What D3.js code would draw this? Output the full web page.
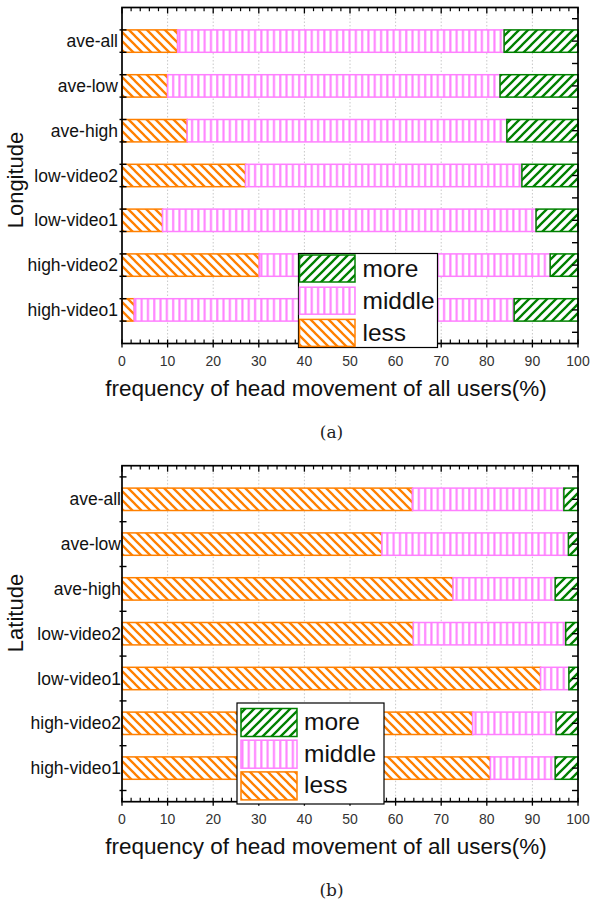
<!DOCTYPE html>
<html>
<head>
<meta charset="utf-8">
<script src="https://cdn.jsdelivr.net/npm/d3@7"></script>
<style>
  body { margin: 0; background: #fff; }
  svg { display: block; }
  text { font-family: "Liberation Sans", Arial, sans-serif; }
  text.caption { font-family: "DejaVu Serif", "Liberation Serif", serif; }
</style>
</head>
<body>
<svg id="fig" width="591" height="901"></svg>
<script>
// Categories, bottom to top on the y axis
const categories = ["high-video1", "high-video2", "low-video1", "low-video2", "ave-high", "ave-low", "ave-all"];
const seriesNames = ["less", "middle", "more"];
const legendOrder = ["more", "middle", "less"];

// Longitude: share of head movement (%)
const lonLess   = [2.7, 30.1, 8.9, 27.1, 14.3, 10.0, 12.2];
const lonMiddle = [83.3, 63.8, 81.9, 60.6, 70.1, 72.9, 71.6];
const lonMore   = [14.0, 6.1, 9.2, 12.3, 15.6, 17.1, 16.2];

// Latitude: share of head movement (%)
const latLess   = [80.8, 76.9, 91.8, 63.9, 72.6, 57.0, 63.7];
const latMiddle = [14.2, 18.3, 6.2, 33.4, 22.4, 40.9, 33.2];
const latMore   = [5.0, 4.8, 2.0, 2.7, 5.0, 2.1, 3.1];

const xTicks = [0, 10, 20, 30, 40, 50, 60, 70, 80, 90, 100];
const xTitle = "frequency of head movement of all users(%)";

const svg = d3.select("#fig");
const defs = svg.append("defs");

const ORANGE = "#ff8000", PINK = "#ff80ff", GREEN = "#008000";
const P = 9; // hatch period

// Hatch fills
const pLess = defs.append("pattern").attr("id", "pat-less")
  .attr("patternUnits", "userSpaceOnUse").attr("width", P).attr("height", P);
pLess.append("rect").attr("width", P).attr("height", P).attr("fill", "#fff");
pLess.append("path").attr("d", `M-1,-1 L${P + 1},${P + 1} M-1,${P - 1} L1,${P + 1} M${P - 1},-1 L${P + 1},1`)
  .attr("stroke", ORANGE).attr("stroke-width", 2.3).attr("fill", "none");

const pMid = defs.append("pattern").attr("id", "pat-middle")
  .attr("patternUnits", "userSpaceOnUse").attr("width", 6.3).attr("height", 10);
pMid.append("rect").attr("width", 6.3).attr("height", 10).attr("fill", "#fff");
pMid.append("rect").attr("x", 2).attr("width", 2.1).attr("height", 10).attr("fill", PINK);

const pMore = defs.append("pattern").attr("id", "pat-more")
  .attr("patternUnits", "userSpaceOnUse").attr("width", P).attr("height", P);
pMore.append("rect").attr("width", P).attr("height", P).attr("fill", "#fff");
pMore.append("path").attr("d", `M-1,${P + 1} L${P + 1},-1 M-1,1 L1,-1 M${P - 1},${P + 1} L${P + 1},${P - 1}`)
  .attr("stroke", GREEN).attr("stroke-width", 2.3).attr("fill", "none");

const fills = { less: "url(#pat-less)", middle: "url(#pat-middle)", more: "url(#pat-more)" };
const strokes = { less: ORANGE, middle: PINK, more: GREEN };

const panels = [
  {
    yTitle: "Longitude", caption: "(a)",
    less: lonLess, middle: lonMiddle, more: lonMore,
    top: 7.5, titleY: 180, leftTicks: "edges", labelRight: 118,
    legend: { x: 298.5, y: 253.5, w: 139, h: 94, sx: 299.5, sy: 255, sw: 55.5, sh: 27, step: 32.2, tx: 362.5 }
  },
  {
    yTitle: "Latitude", caption: "(b)",
    less: latLess, middle: latMiddle, more: latMore,
    top: 465.7, titleY: 613, leftTicks: "between", labelRight: 121,
    legend: { x: 237, y: 703, w: 147, h: 101, sx: 241, sy: 708.5, sw: 56, sh: 28, step: 31.7, tx: 304 }
  }
];

const left = 122, right = 578, plotH = 336;

panels.forEach(p => {
  const top = p.top, bottom = top + plotH;
  const g = svg.append("g");

  const x = d3.scaleLinear().domain([0, 100]).range([left, right]);
  const yBand = d3.scaleBand().domain(categories).range([bottom, top]).padding(0.5);
  const yIdx = d3.scaleLinear().domain([0.25, 7.75]).range([bottom, top]);

  // dotted vertical grid
  g.append("g").selectAll("line").data(xTicks.slice(1, -1)).join("line")
    .attr("x1", d => x(d)).attr("x2", d => x(d))
    .attr("y1", top).attr("y2", bottom)
    .attr("stroke", "#c8c8c8").attr("stroke-width", 1).attr("stroke-dasharray", "1.5,2");

  // stacked bars
  const rows = categories.map((c, i) => ({ cat: c, less: p.less[i], middle: p.middle[i], more: p.more[i] }));
  const stacked = d3.stack().keys(seriesNames)(rows);
  stacked.forEach(layer => {
    g.append("g").selectAll("rect").data(layer).join("rect")
      .attr("x", d => x(d[0]))
      .attr("y", d => yBand(d.data.cat))
      .attr("width", d => x(d[1]) - x(d[0]))
      .attr("height", yBand.bandwidth())
      .attr("fill", fills[layer.key])
      .attr("stroke", strokes[layer.key])
      .attr("stroke-width", 1.5);
  });

  // x axes (bottom, top) with inward ticks
  const minor = d3.range(0, 101, 2).filter(v => v % 10 !== 0);
  const ax = g.append("g").attr("stroke", "#000");
  ax.selectAll(".mj-b").data(xTicks).join("line").attr("class", "mj-b")
    .attr("x1", d => x(d)).attr("x2", d => x(d)).attr("y1", bottom - 4).attr("y2", bottom + 4).attr("stroke-width", 1.3);
  ax.selectAll(".mn-b").data(minor).join("line").attr("class", "mn-b")
    .attr("x1", d => x(d)).attr("x2", d => x(d)).attr("y1", bottom - 4).attr("y2", bottom).attr("stroke-width", 1.2);
  ax.selectAll(".mj-t").data(xTicks).join("line").attr("class", "mj-t")
    .attr("x1", d => x(d)).attr("x2", d => x(d)).attr("y1", top).attr("y2", top + 6).attr("stroke-width", 1.3);
  ax.selectAll(".mn-t").data(minor).join("line").attr("class", "mn-t")
    .attr("x1", d => x(d)).attr("x2", d => x(d)).attr("y1", top).attr("y2", top + 3.7).attr("stroke-width", 1.2);

  // y ticks
  const leftVals = p.leftTicks === "edges"
    ? d3.range(1, 8).flatMap(k => [k - 0.25, k + 0.25])
    : d3.range(0.5, 8, 1);
  ax.selectAll(".yl").data(leftVals).join("line").attr("class", "yl")
    .attr("x1", left - 2.5).attr("x2", left + 4.5).attr("y1", d => yIdx(d)).attr("y2", d => yIdx(d)).attr("stroke-width", 1.4);
  ax.selectAll(".yr").data(d3.range(0.5, 8, 0.5)).join("line").attr("class", "yr")
    .attr("x1", right - 6).attr("x2", right).attr("y1", d => yIdx(d)).attr("y2", d => yIdx(d)).attr("stroke-width", 1.4);

  // frame
  g.append("rect").attr("x", left).attr("y", top).attr("width", right - left).attr("height", plotH)
    .attr("fill", "none").attr("stroke", "#000").attr("stroke-width", 1.7);

  // x tick labels
  g.append("g").selectAll("text").data(xTicks).join("text")
    .attr("x", d => x(d)).attr("y", bottom + 22.5)
    .attr("text-anchor", "middle").attr("font-size", 14).attr("fill", "#333")
    .text(d => d);

  // category labels
  g.append("g").selectAll("text").data(categories).join("text")
    .attr("x", p.labelRight).attr("y", d => yBand(d) + yBand.bandwidth() / 2 + 6)
    .attr("text-anchor", "end").attr("font-size", 17.5).attr("fill", "#111")
    .text(d => d);

  // axis titles
  g.append("text").attr("x", 326).attr("y", bottom + 52.5)
    .attr("text-anchor", "middle").attr("font-size", 22.5).attr("fill", "#111")
    .text(xTitle);
  g.append("text").attr("transform", `translate(23,${p.titleY}) rotate(-90)`)
    .attr("text-anchor", "middle").attr("font-size", 22).attr("fill", "#111")
    .text(p.yTitle);

  // caption
  g.append("text").attr("class", "caption").attr("x", 331.5).attr("y", bottom + 94)
    .attr("text-anchor", "middle").attr("font-size", 17).attr("fill", "#222")
    .text(p.caption);

  // legend
  const L = p.legend;
  const lg = g.append("g");
  lg.append("rect").attr("x", L.x).attr("y", L.y).attr("width", L.w).attr("height", L.h)
    .attr("fill", "#fff").attr("stroke", "#000").attr("stroke-width", 1.2);
  legendOrder.forEach((k, i) => {
    const yy = L.sy + i * L.step;
    lg.append("rect").attr("x", L.sx).attr("y", yy).attr("width", L.sw).attr("height", L.sh)
      .attr("fill", fills[k]).attr("stroke", strokes[k]).attr("stroke-width", 1.5);
    lg.append("text").attr("x", L.tx).attr("y", yy + 21.5)
      .attr("font-size", 24.5).attr("fill", "#111").text(k);
  });
});
</script>
</body>
</html>
